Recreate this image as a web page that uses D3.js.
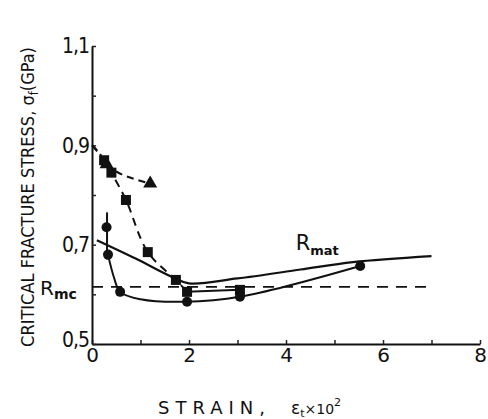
<!DOCTYPE html>
<html>
<head>
<meta charset="utf-8">
<script src="https://cdn.jsdelivr.net/npm/d3@7"></script>
<style>
  body { margin: 0; background: #fff; }
  svg { display: block; }
</style>
</head>
<body>
<div id="chart"></div>
<script>
// x ticks / y ticks
var xTicks = [0, 1, 2, 3, 4, 5, 6, 7, 8];
var xTickLabels = ["0", "", "2", "", "4", "", "6", "", "8"];
var yTicks = [0.5, 0.6, 0.7, 0.8, 0.9, 1.0, 1.1];
var yTickLabels = ["0,5", "", "0,7", "", "0,9", "", "1,1"];

// triangles (dashed)
var triX = [0, 0.15, 0.3, 0.6, 1.2];
var triY = [0.9, 0.885, 0.862, 0.842, 0.823];
var triMarkX = [0.3, 1.2];
var triMarkY = [0.862, 0.823];

// squares (dashed down to the minimum, then solid)
var sqX = [0, 0.25, 0.4, 0.7, 1.15, 1.73, 1.96];
var sqY = [0.9, 0.87, 0.845, 0.79, 0.685, 0.629, 0.605];
var sqTailX = [1.96, 3.05];
var sqTailY = [0.605, 0.609];
var sqMarkX = [0.25, 0.4, 0.7, 1.15, 1.73, 1.96, 3.05];
var sqMarkY = [0.87, 0.845, 0.79, 0.685, 0.629, 0.605, 0.609];

// circles (solid)
var cirX = [0.33, 0.45, 0.58, 1.0, 1.92, 3.05, 5.53];
var cirY = [0.68, 0.635, 0.605, 0.59, 0.585, 0.595, 0.657];
var cirMarkX = [0.3, 0.33, 0.58, 1.96, 3.05, 5.53];
var cirMarkY = [0.735, 0.68, 0.605, 0.585, 0.595, 0.657];
var errX = 0.31, errLo = 0.67, errHi = 0.765;

// R_mat curve
var matX = [0.1, 0.9, 1.65, 2.0, 3.0, 4.3, 5.38, 7.0];
var matY = [0.709, 0.672, 0.635, 0.622, 0.632, 0.65, 0.665, 0.677];

// R_mc level
var rmc = 0.615;
var rmcEnd = 7.0;

var W = 488, H = 419;
var margin = {top: 46, right: 8, bottom: 75, left: 92};

var svg = d3.select("#chart")
  .append("svg")
  .attr("width", W)
  .attr("height", H);

var x = d3.scaleLinear().domain([0, 8]).range([margin.left, W - margin.right]);
var y = d3.scaleLinear().domain([0.5, 1.1]).range([H - margin.bottom, margin.top]);

var font = "'Liberation Sans Narrow', 'DejaVu Sans Condensed', sans-serif";

// axes
svg.append("g")
  .attr("transform", "translate(0," + y(0.5) + ")")
  .call(d3.axisBottom(x).tickValues(xTicks).tickSize(-4).tickSizeOuter(0)
    .tickFormat((d, i) => xTickLabels[i]))
  .call(g => g.select(".domain").attr("stroke", "#111").attr("stroke-width", 2))
  .call(g => g.selectAll(".tick line").attr("stroke", "#222").attr("stroke-width", 1.5))
  .call(g => g.selectAll(".tick text")
    .attr("fill", "#111").attr("y", 4).attr("dy", "0.71em")
    .style("font-family", "'DejaVu Sans', sans-serif").style("font-size", "20px"));

svg.append("g")
  .attr("transform", "translate(" + x(0) + ",0)")
  .call(d3.axisLeft(y).tickValues(yTicks).tickSize(-4).tickSizeOuter(0)
    .tickFormat((d, i) => yTickLabels[i]))
  .call(g => g.select(".domain").attr("stroke", "#111").attr("stroke-width", 2))
  .call(g => g.selectAll(".tick line").attr("stroke", "#222").attr("stroke-width", 1.5))
  .call(g => g.selectAll(".tick text")
    .attr("fill", "#111").attr("x", -3)
    .attr("dy", (d, i) => i == 0 ? "0.12em" : "0.32em")
    .style("font-family", font).style("font-size", "21px").style("letter-spacing", "-1px"));

// Rmc dashed level
svg.append("line")
  .attr("x1", x(0)).attr("x2", x(rmcEnd))
  .attr("y1", y(rmc)).attr("y2", y(rmc))
  .attr("stroke", "#111").attr("stroke-width", 1.8)
  .attr("stroke-dasharray", "11 8");

var line = d3.line()
  .x(d => x(d[0]))
  .y(d => y(d[1]))
  .curve(d3.curveCatmullRom.alpha(0.5));

function pts(xs, ys) { return xs.map((v, i) => [v, ys[i]]); }

// curves
svg.append("path").datum(pts(triX, triY))
  .attr("d", line).attr("fill", "none")
  .attr("stroke", "#111").attr("stroke-width", 2).attr("stroke-dasharray", "7 5");

svg.append("path").datum(pts(sqX, sqY))
  .attr("d", line).attr("fill", "none")
  .attr("stroke", "#111").attr("stroke-width", 2).attr("stroke-dasharray", "8 6");

svg.append("path").datum(pts(sqTailX, sqTailY))
  .attr("d", line).attr("fill", "none")
  .attr("stroke", "#111").attr("stroke-width", 2);

svg.append("path").datum(pts(cirX, cirY))
  .attr("d", line).attr("fill", "none")
  .attr("stroke", "#111").attr("stroke-width", 2);

svg.append("path").datum(pts(matX, matY))
  .attr("d", line).attr("fill", "none")
  .attr("stroke", "#111").attr("stroke-width", 2.2);

// error bar
svg.append("line")
  .attr("x1", x(errX)).attr("x2", x(errX))
  .attr("y1", y(errLo)).attr("y2", y(errHi))
  .attr("stroke", "#111").attr("stroke-width", 2);

// markers
svg.selectAll(".tri")
  .data(pts(triMarkX, triMarkY))
  .enter().append("path")
  .attr("class", "tri")
  .attr("transform", d => "translate(" + x(d[0]) + "," + y(d[1]) + ")")
  .attr("d", d3.symbol().type(d3.symbolTriangle).size(85))
  .attr("fill", "#111");

svg.selectAll(".sq")
  .data(pts(sqMarkX, sqMarkY))
  .enter().append("rect")
  .attr("class", "sq")
  .attr("x", d => x(d[0]) - 5)
  .attr("y", d => y(d[1]) - 5)
  .attr("width", 10).attr("height", 10)
  .attr("fill", "#111");

svg.selectAll(".cir")
  .data(pts(cirMarkX, cirMarkY))
  .enter().append("circle")
  .attr("class", "cir")
  .attr("cx", d => x(d[0]))
  .attr("cy", d => y(d[1]))
  .attr("r", 5)
  .attr("fill", "#111");

// R_mat label
var rmat = svg.append("text")
  .attr("x", x(4.2)).attr("y", y(0.69))
  .attr("fill", "#111")
  .style("font-family", "'DejaVu Sans', sans-serif").style("font-size", "21px");
rmat.append("tspan").text("R");
rmat.append("tspan").attr("dy", 5).style("font-size", "13px").style("font-weight", "bold").text("mat");

// R_mc label
var rmcLab = svg.append("text")
  .attr("x", 40).attr("y", y(rmc) + 8)
  .attr("fill", "#111")
  .style("font-family", "'DejaVu Sans', sans-serif").style("font-size", "20px");
rmcLab.append("tspan").text("R");
rmcLab.append("tspan").attr("dy", 4).style("font-size", "14px").style("font-weight", "bold").text("mc");

// y title
var yt = svg.append("text")
  .attr("transform", "translate(34," + ((margin.top + H - margin.bottom) / 2 + 2) + ") rotate(-90)")
  .attr("text-anchor", "middle")
  .attr("fill", "#111")
  .style("font-family", font).style("font-size", "18px");
yt.append("tspan").text("CRITICAL  FRACTURE  STRESS,  σ");
yt.append("tspan").attr("dy", 4).style("font-size", "13px").text("f");
yt.append("tspan").attr("dy", -4).text("(GPa)");

// x title
var xt = svg.append("text")
  .attr("x", 158).attr("y", 414)
  .attr("fill", "#111")
  .style("font-family", "'DejaVu Sans', sans-serif").style("font-size", "18px");
xt.append("tspan").style("letter-spacing", "6px").text("STRAIN,");
xt.append("tspan").attr("dx", 20).style("font-size", "17px").text("ε");
xt.append("tspan").attr("dy", 3).style("font-size", "11px").text("t");
xt.append("tspan").attr("dy", -3).style("font-size", "14px").text("×10");
xt.append("tspan").attr("dy", -8).style("font-size", "11px").text("2");
</script>
</body>
</html>
